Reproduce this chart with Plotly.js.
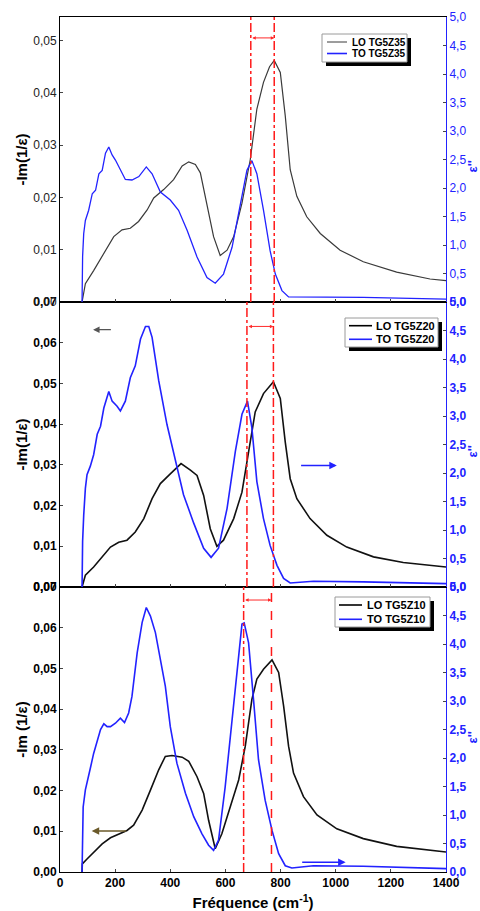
<!DOCTYPE html>
<html><head><meta charset="utf-8">
<script src="https://cdn.plot.ly/plotly-3.0.1.min.js"></script>
<style>html,body{margin:0;padding:0;background:#fff}#chart{width:480px;height:911px}</style>
</head><body><div id="chart"></div>
<script>
// ---------- DATA ----------
// Top panel: TG5Z35
const loX35 = [80, 92, 122, 159, 195, 225, 255, 285, 316, 340, 376, 412, 443, 467, 491, 509, 533, 557, 581, 606, 630, 660, 690, 714, 738, 760, 777, 799, 817, 835, 859, 895, 944, 1016, 1100, 1221, 1342, 1400];
const loY35 = [0, 0.0035, 0.006, 0.0093, 0.0125, 0.0138, 0.0141, 0.0154, 0.0176, 0.0199, 0.0215, 0.0234, 0.026, 0.0268, 0.0263, 0.0247, 0.0189, 0.0125, 0.0089, 0.0099, 0.0125, 0.0189, 0.0272, 0.0369, 0.042, 0.045, 0.0462, 0.0439, 0.0356, 0.0253, 0.0202, 0.0163, 0.0131, 0.0099, 0.0077, 0.0057, 0.0044, 0.0041];
const toX35 = [80, 82, 86, 92, 104, 117, 129, 141, 153, 165, 177, 189, 201, 219, 237, 261, 286, 313, 334, 364, 400, 430, 461, 497, 533, 563, 593, 624, 654, 678, 696, 714, 738, 762, 781, 805, 829, 919, 1100, 1400];
const toY35 = [0, 0.8, 1.2, 1.43, 1.61, 1.9, 1.96, 2.25, 2.31, 2.61, 2.72, 2.58, 2.49, 2.31, 2.15, 2.14, 2.2, 2.37, 2.25, 1.93, 1.79, 1.61, 1.26, 0.79, 0.43, 0.33, 0.49, 0.96, 1.73, 2.31, 2.48, 2.25, 1.61, 0.9, 0.49, 0.2, 0.09, 0.09, 0.08, 0.05];

// Middle panel: TG5Z20
const loX20 = [80, 92, 122, 153, 183, 213, 243, 273, 304, 334, 364, 400, 439, 473, 497, 521, 545, 569, 593, 630, 660, 684, 708, 738, 774, 799, 817, 835, 859, 907, 968, 1040, 1137, 1245, 1400];
const loY20 = [0, 0.0029, 0.0049, 0.0074, 0.0098, 0.011, 0.0115, 0.0135, 0.0168, 0.0217, 0.0254, 0.0278, 0.0303, 0.0287, 0.0274, 0.0225, 0.0143, 0.01, 0.0115, 0.0168, 0.0233, 0.0332, 0.043, 0.0475, 0.0504, 0.0463, 0.0356, 0.0266, 0.0217, 0.0168, 0.0127, 0.0098, 0.0074, 0.006, 0.0049];
const toX20 = [80, 82, 86, 92, 98, 110, 122, 135, 147, 159, 177, 189, 207, 219, 237, 255, 273, 292, 310, 322, 334, 358, 388, 418, 448, 485, 521, 548, 575, 606, 636, 660, 680, 696, 714, 738, 762, 787, 811, 835, 919, 1100, 1400];
const toY20 = [0, 0.8, 1.26, 1.73, 1.97, 2.12, 2.32, 2.68, 2.82, 3.14, 3.43, 3.26, 3.17, 3.09, 3.26, 3.67, 3.88, 4.35, 4.57, 4.57, 4.38, 3.62, 2.85, 2.26, 1.62, 1.12, 0.68, 0.52, 0.68, 1.38, 2.38, 3.03, 3.26, 2.79, 1.85, 1.2, 0.73, 0.38, 0.15, 0.07, 0.1, 0.09, 0.06];

// Bottom panel: TG5Z10
const loX10 = [80, 81, 98, 122, 153, 183, 213, 243, 267, 298, 328, 358, 382, 406, 443, 467, 497, 521, 539, 563, 587, 618, 648, 672, 696, 714, 738, 769, 793, 811, 829, 847, 883, 932, 1004, 1100, 1221, 1400];
const loY10 = [0, 0.002, 0.0032, 0.0049, 0.0069, 0.0084, 0.0094, 0.0102, 0.0115, 0.0152, 0.0201, 0.0251, 0.0284, 0.0286, 0.0282, 0.0272, 0.0234, 0.0193, 0.0127, 0.0057, 0.0094, 0.016, 0.0226, 0.0309, 0.0424, 0.0474, 0.0498, 0.0521, 0.049, 0.0408, 0.0309, 0.0243, 0.0185, 0.014, 0.0106, 0.0082, 0.0063, 0.0049];
const toX10 = [80, 82, 84, 92, 104, 110, 122, 135, 147, 159, 171, 183, 201, 219, 234, 249, 261, 280, 298, 313, 328, 346, 364, 382, 400, 424, 455, 485, 515, 539, 557, 575, 599, 624, 642, 660, 668, 684, 702, 720, 744, 769, 793, 817, 841, 919, 1100, 1400];
const toY10 = [0, 0.7, 1.14, 1.44, 1.73, 1.82, 2.08, 2.32, 2.5, 2.6, 2.55, 2.55, 2.61, 2.7, 2.62, 2.79, 3.08, 3.85, 4.38, 4.64, 4.49, 4.2, 3.73, 3.26, 2.55, 1.91, 1.38, 0.97, 0.67, 0.47, 0.38, 0.56, 1.49, 2.67, 3.55, 4.35, 4.37, 4.02, 3.02, 1.97, 1.26, 0.73, 0.32, 0.11, 0.07, 0.11, 0.1, 0.06];

// Series names (top, middle, bottom)
const loNames = ['LO TG5Z35', 'LO TG5Z20', 'LO TG5Z10'];
const toNames = ['TO TG5Z35', 'TO TG5Z20', 'TO TG5Z10'];
// Marked TO / LO positions (cm-1) for the red guide lines
const toMark = [692, 678, 666];
const loMark = [777, 774, 767];
// Axis ticks and titles
const xTicks = [0, 200, 400, 600, 800, 1000, 1200, 1400];
const leftTitles = ['-Im(1/ε)', '-Im(1/ε)', '-Im (1/ε)'];
const rightTitle = "ε''";

// ---------- LAYOUT HELPERS ----------
const W = 480, H = 911, ML = 60, MR = 34, MT = 17, MB = 39;
const PW = W - ML - MR, PH = H - MT - MB;
const PX = p => (p - ML) / PW;
const PY = p => (H - MB - p) / PH;
const BLUE = '#2222ff';
const FONT = 'Liberation Sans, Arial, sans-serif';

const panels = [
  {xa: 'x3', ya: 'y5', yb: 'y6', lx: loX35, ly: loY35, tx: toX35, ty: toY35, loColor: '#3a3a3a', lw: 1.2, bw: 1.3, mid: 171},
  {xa: 'x2', ya: 'y3', yb: 'y4', lx: loX20, ly: loY20, tx: toX20, ty: toY20, loColor: '#111', lw: 1.6, bw: 1.6, mid: 456},
  {xa: 'x',  ya: 'y',  yb: 'y2', lx: loX10, ly: loY10, tx: toX10, ty: toY10, loColor: '#111', lw: 1.6, bw: 1.6, mid: 742}
];

const traces = [];
panels.forEach((p, i) => {
  traces.push({x: p.lx, y: p.ly, xaxis: p.xa, yaxis: p.ya, type: 'scatter', mode: 'lines',
    name: loNames[i], line: {color: p.loColor, width: p.lw}});
  traces.push({x: p.tx, y: p.ty, xaxis: p.xa, yaxis: p.yb, type: 'scatter', mode: 'lines',
    name: toNames[i], line: {color: BLUE, width: p.bw}});
});

function xAx(anchor, showLabels) {
  return {domain: [0, 1], anchor: anchor, range: [0, 1400], tickvals: xTicks,
    ticks: 'inside', ticklen: 3, showline: true, linecolor: '#000', linewidth: 1, mirror: true,
    showgrid: false, zeroline: false, showticklabels: showLabels,
    tickfont: {size: 12, weight: 'bold', family: FONT, color: '#000'}};
}
function yLeft(dom, range, tickvals, title, bold) {
  return {domain: dom, anchor: 'x', range: range, tickvals: tickvals, tickformat: '.2f',
    ticks: 'inside', ticklen: 3, showline: true, linecolor: '#000', linewidth: 1,
    showgrid: false, zeroline: false,
    tickfont: {size: 12, weight: bold ? 'bold' : 'normal', family: FONT, color: bold ? '#000' : '#222'},
    title: {text: title, font: {size: 15, weight: 'bold', family: FONT, color: '#000'}, standoff: 1}};
}
function yRight(over, bold) {
  return {overlaying: over, side: 'right', anchor: 'x', range: [0, 5], dtick: 0.5, tick0: 0, tickformat: '.1f',
    ticks: 'inside', ticklen: 3, showline: true, linecolor: BLUE, linewidth: 1,
    showgrid: false, zeroline: false,
    tickfont: {size: 12, weight: bold ? 'bold' : 'normal', family: FONT, color: BLUE}};
}

const shapes = [];
const annotations = [];

// Right-axis titles (placed at the figure's right edge, as in the original)
panels.forEach(p => {
  annotations.push({xref: 'paper', yref: 'paper', x: PX(471.5), y: PY(p.mid - 4), xanchor: 'center', yanchor: 'middle',
    text: rightTitle, textangle: -90, showarrow: false, font: {size: 13, weight: 'bold', family: FONT, color: BLUE}});
});

// Red guide lines and double arrows
const arrowY = [0.0505, 0.064, 0.0668];
panels.forEach((p, i) => {
  shapes.push({type: 'line', xref: p.xa, yref: p.ya + ' domain', x0: toMark[i], x1: toMark[i], y0: 0, y1: 1,
    line: {color: '#ff1a1a', width: 1.5, dash: 'dashdot'}});
  shapes.push({type: 'line', xref: p.xa, yref: p.ya + ' domain', x0: loMark[i], x1: loMark[i], y0: 0, y1: 1,
    line: {color: '#ff1a1a', width: 1.5, dash: i === 2 ? 'dash' : 'dashdot'}});
  annotations.push({xref: p.xa, yref: p.ya, axref: p.xa, ayref: p.ya, x: loMark[i], y: arrowY[i],
    ax: toMark[i], ay: arrowY[i], text: '', showarrow: true, arrowside: 'end+start',
    arrowhead: 2, startarrowhead: 2, arrowsize: 0.7, startarrowsize: 0.7, arrowwidth: 1, arrowcolor: '#ff2a2a',
    standoff: 0, startstandoff: 0});
});

// Direction arrows (pointing to the relevant axis)
annotations.push({xref: 'x2', yref: 'y3', axref: 'x2', ayref: 'y3', x: 120, y: 0.0632, ax: 190, ay: 0.0632,
  text: '', showarrow: true, arrowhead: 2, arrowsize: 1, arrowwidth: 1.3, arrowcolor: '#555'});
annotations.push({xref: 'x2', yref: 'y4', axref: 'x2', ayref: 'y4', x: 1004, y: 2.13, ax: 869, ay: 2.13,
  text: '', showarrow: true, arrowhead: 2, arrowsize: 1, arrowwidth: 1.5, arrowcolor: BLUE});
annotations.push({xref: 'x', yref: 'y', axref: 'x', ayref: 'y', x: 115, y: 0.0101, ax: 245, ay: 0.0101,
  text: '', showarrow: true, arrowhead: 2, arrowsize: 1, arrowwidth: 1.5, arrowcolor: '#6b5a2a'});
annotations.push({xref: 'x', yref: 'y2', axref: 'x', ayref: 'y2', x: 1036, y: 0.17, ax: 873, ay: 0.17,
  text: '', showarrow: true, arrowhead: 2, arrowsize: 1, arrowwidth: 1.5, arrowcolor: BLUE});

// Hand-drawn legend boxes with drop shadow
const legends = [
  {box: [322, 34, 407, 62], rows: [42, 53.5], line: [327, 347], tx: 350, fs: 10, loColor: '#3a3a3a', lw: 1},
  {box: [345, 318, 438, 347], rows: [325.7, 339.3], line: [349, 372], tx: 374, fs: 11, loColor: '#000', lw: 1.6},
  {box: [335, 597, 430, 627], rows: [605, 619.3], line: [339, 362], tx: 365, fs: 11, loColor: '#000', lw: 1.6}
];
legends.forEach((L, i) => {
  const [x0, y0, x1, y1] = L.box;
  shapes.push({type: 'rect', xref: 'paper', yref: 'paper', layer: 'above',
    x0: PX(x0 + 4), x1: PX(x1 + 4), y0: PY(y1 + 4), y1: PY(y0 + 4), fillcolor: '#000', line: {width: 0}});
  shapes.push({type: 'rect', xref: 'paper', yref: 'paper', layer: 'above',
    x0: PX(x0), x1: PX(x1), y0: PY(y1), y1: PY(y0), fillcolor: '#fff', line: {color: '#9a9a9a', width: 1}});
  shapes.push({type: 'line', xref: 'paper', yref: 'paper', layer: 'above',
    x0: PX(L.line[0]), x1: PX(L.line[1]), y0: PY(L.rows[0]), y1: PY(L.rows[0]), line: {color: L.loColor, width: L.lw}});
  shapes.push({type: 'line', xref: 'paper', yref: 'paper', layer: 'above',
    x0: PX(L.line[0]), x1: PX(L.line[1]), y0: PY(L.rows[1]), y1: PY(L.rows[1]), line: {color: BLUE, width: 1.6}});
  [loNames[i], toNames[i]].forEach((nm, k) => {
    annotations.push({xref: 'paper', yref: 'paper', x: PX(L.tx), y: PY(L.rows[k]), xanchor: 'left', yanchor: 'middle',
      text: nm, showarrow: false, font: {size: L.fs, weight: 'bold', family: FONT, color: '#000'}});
  });
});

const layout = {
  width: W, height: H, margin: {l: ML, r: MR, t: MT, b: MB},
  paper_bgcolor: '#fff', plot_bgcolor: '#fff', showlegend: false, separators: ', ',
  font: {family: FONT, color: '#000'},
  xaxis: Object.assign(xAx('y', true), {title: {text: 'Fréquence (cm<sup>-1</sup>)', font: {size: 15, weight: 'bold', family: FONT, color: '#000'}, standoff: 8}}),
  xaxis2: Object.assign(xAx('y3', false), {matches: 'x'}),
  xaxis3: Object.assign(xAx('y5', false), {matches: 'x'}),
  yaxis: yLeft([0, 1/3], [0, 0.07], [0, 0.01, 0.02, 0.03, 0.04, 0.05, 0.06, 0.07], leftTitles[2], true),
  yaxis2: yRight('y', true),
  yaxis3: yLeft([1/3, 2/3], [0, 0.07], [0, 0.01, 0.02, 0.03, 0.04, 0.05, 0.06, 0.07], leftTitles[1], true),
  yaxis4: yRight('y3', true),
  yaxis5: yLeft([2/3, 1], [0, 0.0545], [0, 0.01, 0.02, 0.03, 0.04, 0.05], leftTitles[0], false),
  yaxis6: yRight('y5', false),
  shapes: shapes, annotations: annotations
};

Plotly.newPlot('chart', traces, layout, {staticPlot: true, displayModeBar: false});
</script></body></html>
